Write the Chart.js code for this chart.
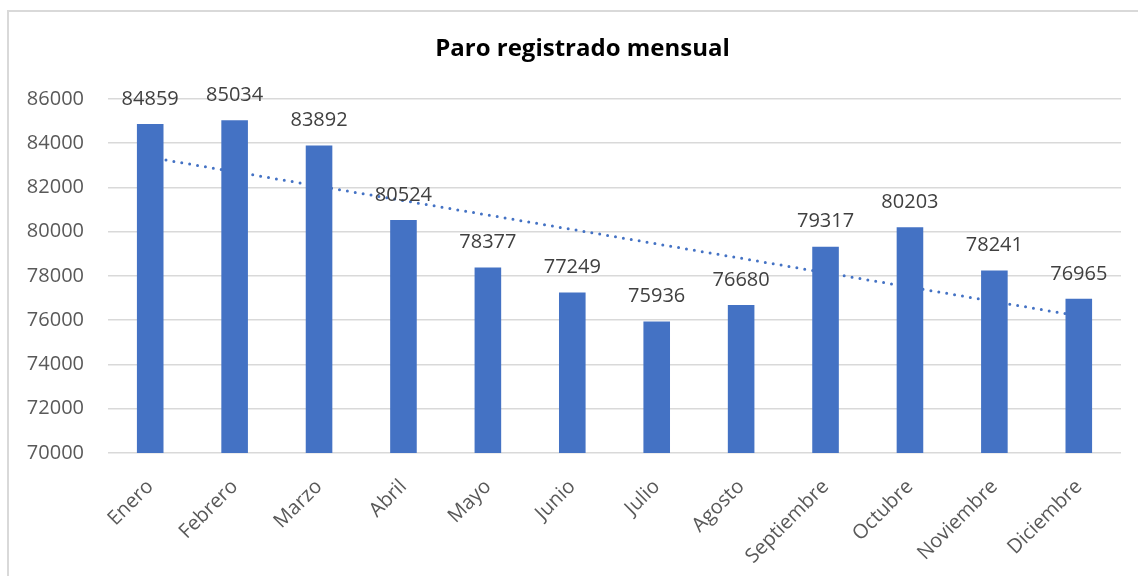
<!DOCTYPE html>
<html>
<head>
<meta charset="utf-8">
<script src="https://cdn.jsdelivr.net/npm/chart.js@4/dist/chart.umd.min.js"></script>
<style>
  html, body { margin: 0; padding: 0; background: #fff; }
  #wrap { position: absolute; left: 0; top: 0; width: 1138px; height: 576px; }
</style>
</head>
<body>
<div id="wrap"><canvas id="myChart"></canvas></div>
<script>
const meses = ['Enero', 'Febrero', 'Marzo', 'Abril', 'Mayo', 'Junio', 'Julio',
    'Agosto', 'Septiembre', 'Octubre', 'Noviembre', 'Diciembre'];
const paro = [84859, 85034, 83892, 80524, 78377, 77249, 75936, 76680, 79317, 80203, 78241, 76965];
const yMin = 70000;
const yMax = 86000;
const yStep = 2000;

const azul = '#4472C4';
const fuente = "'Open Sans', 'Liberation Sans', sans-serif";

// linea de tendencia lineal (minimos cuadrados), como la de Excel
function tendencia(vals) {
    let n = vals.length;
    let mx = (n - 1) / 2;
    let my = vals.reduce((a, b) => a + b, 0) / n;
    let sxy = 0, sxx = 0;
    vals.forEach(function (v, i) {
        sxy += (i - mx) * (v - my);
        sxx += (i - mx) * (i - mx);
    });
    let m = sxy / sxx;
    return vals.map((v, i) => my + m * (i - mx));
}

// marco gris del grafico + titulo un poco a la derecha como en el original
const marco = {
    id: 'marco',
    afterLayout(chart) {
        if (chart.titleBlock) {
            chart.titleBlock.left += 22;
            chart.titleBlock.right += 22;
        }
    },
    beforeDraw(chart) {
        const ctx = chart.ctx;
        ctx.save();
        ctx.strokeStyle = '#d9d9d9';
        ctx.lineWidth = 2;
        ctx.strokeRect(8, 11, 1200, 700);
        ctx.restore();
    }
};

// etiquetas de datos encima de cada barra
const etiquetas = {
    id: 'etiquetas',
    afterDatasetsDraw(chart) {
        const ctx = chart.ctx;
        const meta = chart.getDatasetMeta(0);
        ctx.save();
        ctx.font = '20px ' + fuente;
        ctx.fillStyle = '#404040';
        ctx.textAlign = 'center';
        ctx.textBaseline = 'middle';
        meta.data.forEach(function (bar, i) {
            ctx.fillText(String(paro[i]), bar.x, bar.y - 25);
        });
        ctx.restore();
    }
};

const ctx = document.getElementById('myChart').getContext('2d');
new Chart(ctx, {
    type: 'bar',
    data: {
        labels: meses,
        datasets: [
            {
                label: 'Paro',
                data: paro,
                backgroundColor: azul,
                barPercentage: 0.63,
                categoryPercentage: 0.5,
                order: 1
            },
            {
                type: 'line',
                label: 'Tendencia',
                data: tendencia(paro),
                borderColor: azul,
                borderWidth: 3,
                borderDash: [0, 8],
                borderCapStyle: 'round',
                pointRadius: 0,
                fill: false,
                order: 2
            }
        ]
    },
    options: {
        responsive: true,
        maintainAspectRatio: false,
        animation: false,
        layout: {
            padding: { top: 12, right: 17, bottom: 0, left: 0 }
        },
        plugins: {
            legend: { display: false },
            tooltip: { enabled: false },
            title: {
                display: true,
                text: 'Paro registrado mensual',
                color: '#000',
                font: { family: fuente, size: 24, weight: 'bold' },
                padding: { top: 23, bottom: 35 }
            }
        },
        scales: {
            x: {
                grid: { display: false, drawTicks: false },
                border: { display: false },
                ticks: {
                    color: '#595959',
                    font: { family: fuente, size: 20 },
                    minRotation: 45,
                    maxRotation: 45,
                    padding: 22
                },
                afterFit: function (scale) { scale.height = 123; }
            },
            y: {
                min: yMin,
                max: yMax,
                grid: { color: '#d9d9d9', lineWidth: 1.5, drawTicks: false },
                border: { display: false },
                ticks: {
                    stepSize: yStep,
                    color: '#595959',
                    font: { family: fuente, size: 20 },
                    padding: 24,
                    callback: function (v) { return String(v); }
                },
                afterFit: function (scale) { scale.width = 108; }
            }
        }
    },
    plugins: [marco, etiquetas]
});
</script>
</body>
</html>
